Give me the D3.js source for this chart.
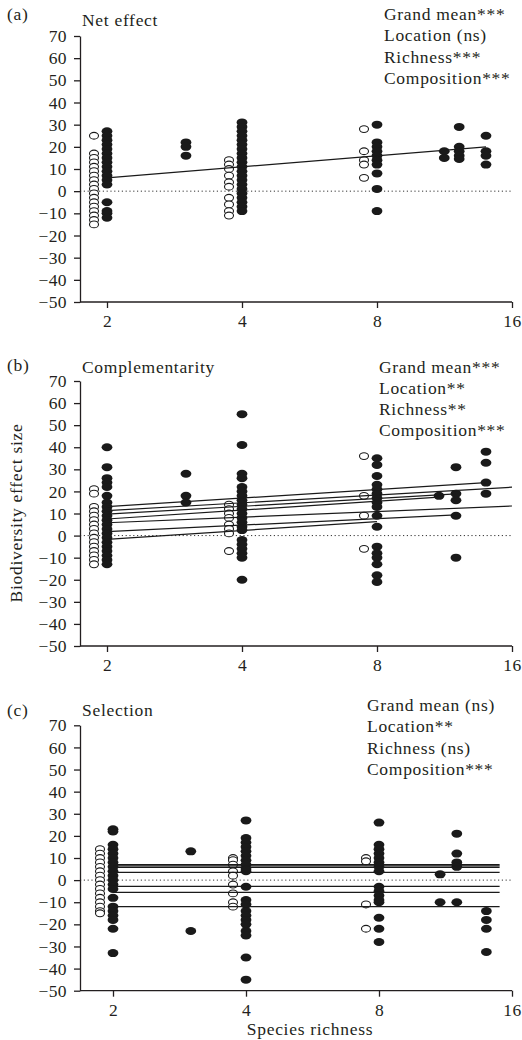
<!DOCTYPE html>
<html>
<head>
<meta charset="utf-8">
<title>Biodiversity effects vs species richness</title>
<script src="https://d3js.org/d3.v7.min.js"></script>
<style>
  body { margin: 0; background: #fff; }
  text { font-family: "Liberation Serif", "Times New Roman", serif; fill: #231f20; letter-spacing: 0.7px; }
</style>
</head>
<body>
<svg width="522" height="1040"></svg>
<script>
  const yTicks = d3.range(-50, 71, 10);
  const xTicks = [2, 4, 8, 16];

  // (a) net effect -- [species richness, [effect sizes]]
  const netOpen = [
    [2, [25, 17, 15, 13, 11, 9, 7, 5, 3, 1, -1, -3, -5, -7, -9, -11, -13, -15]],
    [4, [14, 12, 10, 7, 4, 2, -3, -6, -9, -11]],
    [8, [28, 18, 14, 12, 6]]
  ];
  const netFilled = [
    [2, [27, 25, 23, 21, 19, 17, 15, 13, 11, 9, 7, 5, 3, -5, -9, -10, -12]],
    [3, [22, 20, 16]],
    [4, [31, 29, 27, 25, 23, 21, 19, 17, 15, 13, 11, 9, 7, 5, 3, 1, -1, -3, -5, -7, -9]],
    [8, [30, 22, 20, 18, 16, 14, 12, 8, 1, -9]],
    [11.3, [18, 15]],
    [12.2, [29, 20, 18, 16, 14.5]],
    [14, [25, 18, 16, 12]]
  ];
  // fitted lines: [x0, y0, x1, y1]
  const netLines = [[2, 6, 14, 20]];
  const netStats = ["Grand mean***", "Location (ns)", "Richness***", "Composition***"];

  // (b) complementarity
  const compOpen = [
    [2, [21, 19, 13, 11, 9, 7, 5, 3, 1, -1, -3, -5, -7, -9, -11, -13]],
    [4, [14, 12, 10, 8, 5, 3, 1, -7]],
    [8, [36, 18, 9, -6]]
  ];
  const compFilled = [
    [2, [40, 31, 26, 24, 22, 18, 15, 13, 11, 9, 7, 5, 3, 1, -1, -3, -5, -7, -9, -11, -13]],
    [3, [28, 18, 15]],
    [4, [55, 41, 28, 26, 22, 20, 18, 16, 14, 12, 10, 8, 6, 4, 2.5, -2, -4, -6, -8, -10, -20]],
    [8, [35, 32, 27, 23, 21, 19, 17, 15, 13, 9, 4, -5, -8, -10, -13, -18, -21]],
    [11, [18]],
    [12, [31, 19, 16, 9, -10]],
    [14, [38, 33, 24, 19]]
  ];
  const compLines = [
    [2, 13.1, 14, 24],
    [2, 11.3, 16, 21.9],
    [2, 9.7, 12, 18.9],
    [2, 7.5, 11, 17.4],
    [2, 5.8, 16, 13.4],
    [2, 1.8, 12, 9.4],
    [2, -1.7, 8, 6.3]
  ];
  const compStats = ["Grand mean***", "Location**", "Richness**", "Composition***"];

  // (c) selection
  const selOpen = [
    [2, [14, 12, 10, 8, 6, 4, 2, 0, -2, -4, -6, -8, -10, -12, -14, -15]],
    [4, [10, 9, 7, 4, 2, -2, -6, -10, -12]],
    [8, [10, 8.5, -11, -22]]
  ];
  const selFilled = [
    [2, [23, 22, 16, 14, 12, 10, 8, 6, 4, 2, 0, -2, -4, -8, -12, -14, -16, -18, -22, -33]],
    [3, [13, -23]],
    [4, [27, 19, 17, 15, 13, 11, 9, 7, 5, 4, -3, -9, -11, -14, -16, -18, -20, -23, -25, -35, -45]],
    [8, [26, 16, 14, 12, 10, 8, 6, 4, -3, -5, -7, -9, -10, -17, -22, -28]],
    [11, [2.6, -10]],
    [12, [21, 12, 8, 6, -10]],
    [14, [-14, -18, -22, -32.5]]
  ];
  const selLines = [
    [2, 7.0, 15, 7.0],
    [2, 6.4, 15, 6.4],
    [2, 5.8, 15, 5.8],
    [2, 3.5, 15, 3.5],
    [2, -2.8, 15, -2.8],
    [2, -5.5, 15, -5.5],
    [2, -12, 15, -12]
  ];
  const selStats = ["Grand mean (ns)", "Location**", "Richness (ns)", "Composition***"];

  const panels = [
    { tag: "(a)", title: "Net effect", open: netOpen, filled: netFilled, lines: netLines, stats: netStats,
      top: 36, bottom: 302, x2: 107, tagY: 20, titleY: 25.5, statsX: 384, statsY: 20 },
    { tag: "(b)", title: "Complementarity", open: compOpen, filled: compFilled, lines: compLines, stats: compStats,
      top: 381, bottom: 646, x2: 107, tagY: 371, titleY: 372.5, statsX: 379, statsY: 372.5 },
    { tag: "(c)", title: "Selection", open: selOpen, filled: selFilled, lines: selLines, stats: selStats,
      top: 725.3, bottom: 990.7, x2: 113, tagY: 716, titleY: 716, statsX: 367, statsY: 711 }
  ];

  const svg = d3.select("svg");
  const axisX0 = 80, axisX1 = 512;
  const flat = groups => groups.flatMap(([x, vs]) => vs.map(v => ({ x, v })));
  const minus = d => d < 0 ? "\u2212" + Math.abs(d) : d;

  panels.forEach(p => {
    const x = d3.scaleLog().base(2).domain([2, 16]).range([p.x2, axisX1]);
    const y = d3.scaleLinear().domain([-50, 70]).range([p.bottom, p.top]);
    const g = svg.append("g");

    // zero reference
    g.append("line")
      .attr("x1", axisX0).attr("x2", axisX1)
      .attr("y1", y(0)).attr("y2", y(0))
      .attr("stroke", "#333").attr("stroke-width", 1)
      .attr("stroke-dasharray", "1.2,2.6");

    // axes
    const ya = g.append("g")
      .attr("transform", `translate(${axisX0},0)`)
      .call(d3.axisLeft(y).tickValues(yTicks).tickSize(6).tickSizeOuter(0).tickPadding(7).tickFormat(minus));
    const xa = g.append("g")
      .attr("transform", `translate(0,${p.bottom})`)
      .call(d3.axisBottom(x).tickValues(xTicks).tickSize(6).tickSizeOuter(0).tickPadding(7).tickFormat(d3.format("d")));
    xa.select(".domain").attr("d", `M${axisX0},0H${axisX1}`);
    [ya, xa].forEach(a => {
      a.attr("font-family", null).attr("font-size", null);
      a.selectAll("path, line").attr("stroke", "#231f20").attr("stroke-width", 1.3);
      a.selectAll("text").style("font-size", "17.5px").style("letter-spacing", "0.4px").attr("fill", "#231f20");
    });

    // points
    g.append("g").selectAll("ellipse")
      .data(flat(p.filled))
      .join("ellipse")
      .attr("cx", d => x(d.x)).attr("cy", d => y(d.v))
      .attr("rx", 5.4).attr("ry", 4)
      .attr("fill", "#1a1a1a");
    g.append("g").selectAll("ellipse")
      .data(flat(p.open))
      .join("ellipse")
      .attr("cx", d => x(d.x) - 13).attr("cy", d => y(d.v))
      .attr("rx", 4.5).attr("ry", 3.4)
      .attr("fill", "#fff").attr("stroke", "#1a1a1a").attr("stroke-width", 1.1);

    // fitted lines
    g.append("g").selectAll("line")
      .data(p.lines)
      .join("line")
      .attr("x1", d => x(d[0])).attr("y1", d => y(d[1]))
      .attr("x2", d => x(d[2])).attr("y2", d => y(d[3]))
      .attr("stroke", "#1a1a1a").attr("stroke-width", 1.2);

    // labels
    g.append("text").attr("x", 7).attr("y", p.tagY).style("font-size", "17.5px").text(p.tag);
    g.append("text").attr("x", 82).attr("y", p.titleY).style("font-size", "17.5px").text(p.title);
    g.append("g").selectAll("text")
      .data(p.stats)
      .join("text")
      .attr("x", p.statsX).attr("y", (d, i) => p.statsY + i * 21.3)
      .style("font-size", "17.5px")
      .text(d => d);
  });

  svg.append("text")
    .attr("transform", "translate(22,513) rotate(-90)")
    .attr("text-anchor", "middle")
    .style("font-size", "17.5px")
    .text("Biodiversity effect size");

  svg.append("text")
    .attr("x", 310).attr("y", 1035)
    .attr("text-anchor", "middle")
    .style("font-size", "17.5px")
    .text("Species richness");
</script>
</body>
</html>
